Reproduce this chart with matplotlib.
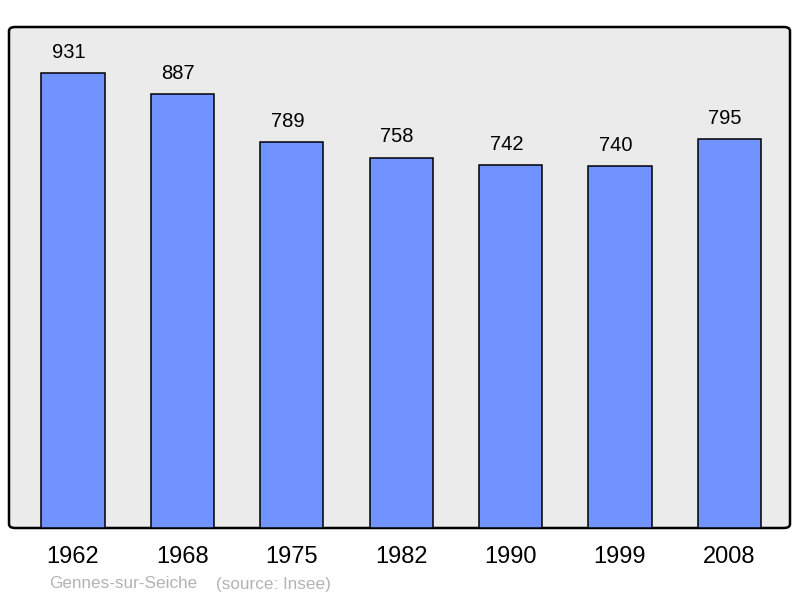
import matplotlib.pyplot as plt
from matplotlib.patches import FancyBboxPatch

years = ['1962', '1968', '1975', '1982', '1990', '1999', '2008']
population = [931, 887, 789, 758, 742, 740, 795]
place = 'Gennes-sur-Seiche'
source = '(source: Insee)'

plt.rcParams['font.family'] = ['Liberation Sans', 'DejaVu Sans']

fig = plt.figure(figsize=(8, 5.98), dpi=100)
ax = fig.add_axes([9 / 800, 70 / 598, 781 / 800, 501 / 598])
ax.set_facecolor('none')

# rounded grey panel behind the bars
panel = FancyBboxPatch((0, 0), 1, 1, boxstyle='round,pad=0,rounding_size=0.008',
                       transform=ax.transAxes, facecolor='#ebebeb',
                       edgecolor='black', linewidth=1.8, zorder=0, clip_on=False)
ax.add_patch(panel)

x = range(len(years))
ax.bar(x, population, width=0.578, color='#7093ff', edgecolor='black',
       linewidth=1.1, zorder=2)
for xi, v in zip(x, population):
    # labels sit a few pixels left of the bar centre, like the original
    ax.annotate(str(v), (xi, v), xytext=(-3, 8), textcoords='offset points',
                ha='center', va='bottom', fontsize=14.5)

ax.set_xlim(-0.585, 6.555)
ax.set_ylim(0, 1025)
for s in ax.spines.values():
    s.set_visible(False)
ax.set_yticks([])
ax.set_xticks(list(x))
ax.set_xticklabels(years, fontsize=17)
ax.tick_params(axis='x', length=0, pad=13)

fig.text(49 / 800, 1 - 584 / 598, place, color='#b3b3b3', fontsize=12.3, va='center')
fig.text(216 / 800, 1 - 584 / 598, source, color='#b3b3b3', fontsize=12.3, va='center')

fig.savefig('out.png', dpi=100)
